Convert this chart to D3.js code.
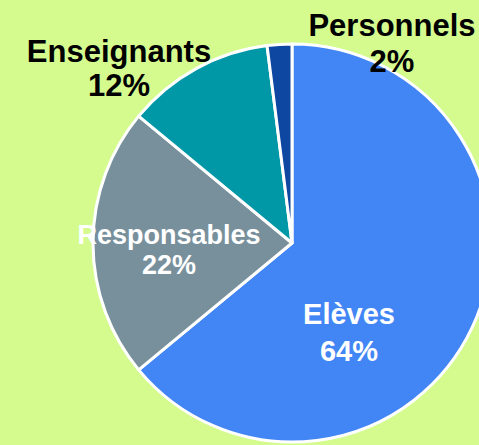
<!DOCTYPE html>
<html>
<head>
<meta charset="utf-8">
<script src="https://cdn.jsdelivr.net/npm/d3@7"></script>
<style>
    html, body { margin: 0; padding: 0; background: #d5fb8f; }
    svg { display: block; }
    .slice-label { font-family: "Liberation Sans", Arial, sans-serif; font-weight: bold; }
</style>
</head>
<body>
<div id="chart"></div>
<script>
// Data
const categories = ['Elèves', 'Responsables', 'Enseignants', 'Personnels'];
const shares = [64, 22, 12, 2];
const sliceColours = ['#4285f4', '#78909c', '#0097a7', '#0d47a1'];
const labelColours = ['#ffffff', '#ffffff', '#000000', '#000000'];
// label layout (manually placed in the original): offset from pie centre, font size, line gap
const labelOffsets = [[57, 81], [-123, 1], [-173, -181], [100, -207]];
const labelSizes = [29, 27, 31, 31];
const labelGaps = [37, 30, 34, 36];

const width = 479, height = 445;
const cx = 292, cy = 243, radius = 199;

const svg = d3.select('#chart').append('svg')
    .attr('width', width)
    .attr('height', height);

const g = svg.append('g').attr('transform', `translate(${cx},${cy})`);

const items = categories.map((c, i) => ({name: c, value: shares[i], i: i}));

const pie = d3.pie().sort(null).value(d => d.value);
const arc = d3.arc().innerRadius(0).outerRadius(radius);

g.selectAll('path.slice').data(pie(items)).join('path')
    .attr('class', 'slice')
    .attr('d', arc)
    .attr('fill', d => sliceColours[d.data.i])
    .attr('stroke', '#ffffff')
    .attr('stroke-width', 3)
    .attr('stroke-linejoin', 'round');

// Labels: name on first line, percentage on second
const labels = g.selectAll('text.slice-label').data(items).join('text')
    .attr('class', 'slice-label')
    .attr('text-anchor', 'middle')
    .attr('font-size', d => labelSizes[d.i] + 'px')
    .attr('fill', d => labelColours[d.i])
    .attr('transform', d => `translate(${labelOffsets[d.i][0]},${labelOffsets[d.i][1]})`);

labels.append('tspan')
    .attr('x', 0)
    .attr('y', 0)
    .text(d => d.name);

labels.append('tspan')
    .attr('x', 0)
    .attr('y', d => labelGaps[d.i])
    .text(d => d3.format('d')(d.value) + '%');
</script>
</body>
</html>
